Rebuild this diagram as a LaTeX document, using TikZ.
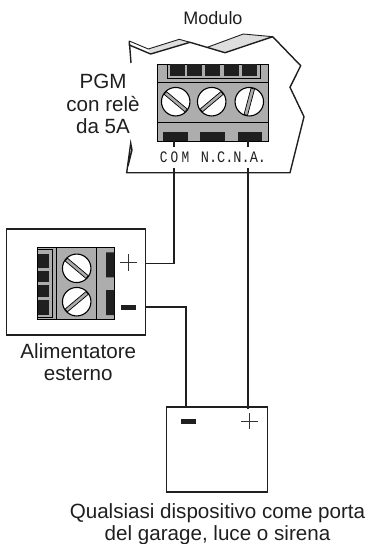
\documentclass[tikz,border=0pt]{standalone}
\usepackage{fontspec}
\usepackage{graphicx}
\setmainfont{Liberation Sans}
\newfontfamily\pinfont{Liberation Mono}
\usetikzlibrary{calc}
\definecolor{blockgray}{gray}{0.68}
\definecolor{ribbongray}{gray}{0.87}
\definecolor{tabblack}{gray}{0.12}
\tikzstyle{wire} = [draw,line width=1.6pt,tabblack]
\tikzstyle{outline} = [draw,line width=1.4pt,line join=miter,tabblack]
\tikzstyle{box} = [draw,line width=1.1pt,tabblack,fill=white,inner sep=0pt]
\tikzstyle{screw} = [draw,line width=1.1pt,black,fill=white,circle,minimum size=28.5pt,inner sep=0pt]
\tikzstyle{tab} = [fill=tabblack]
\tikzstyle{label} = [font=\fontsize{20.6pt}{22.5pt}\selectfont,align=center,text=tabblack,inner sep=0pt]
\tikzstyle{pin} = [font=\pinfont\fontsize{16pt}{16pt}\selectfont,text=tabblack,inner sep=0pt]
\newcommand{\slot}[2]{% screw slot through centre #1 at angle #2
    \fill[blockgray,draw=black,line width=0.7pt,rotate around={#2:(#1)}] ($(#1)+(-13.6,-1.8)$) rectangle ($(#1)+(13.6,1.8)$);}
\begin{document}
\begin{tikzpicture}[x=1pt,y=-1pt]
    \useasboundingbox (0,0) rectangle (368,544);
    % Module outline
    \fill[ribbongray] (148.3,49) -- (179.3,39.3) -- (190,42.3) -- (150.7,54) -- cycle;
    \fill[ribbongray] (207.3,47.3) -- (243.3,34) -- (272.7,36.7) -- (225,52.7) -- cycle;
    \path[outline] (131,63) -- (129.3,41) -- (129.3,45) -- (150.7,54) -- (190,42.3) -- (225,52.7) -- (272.7,36.7)
        -- (300.7,65.7) -- (290,87.3) -- (304,116.7) -- (290,172.7) -- (126.7,172.7) -- (130.7,143.3) -- (132,150) -- (128,166);
    \draw[tabblack,line width=0.9pt] (129.3,41) -- (148.3,49) -- (179.3,39.3) -- (190,42.3);
    \draw[tabblack,line width=0.9pt] (207.3,47.3) -- (243.3,34) -- (272.7,36.7);
    % Terminal block of the module
    \node[draw=black,line width=0.9pt,fill=blockgray,minimum width=110.5pt,minimum height=77pt,inner sep=0pt] (modblock) at (213,102.5) {};
    \draw[black,line width=0.9pt] (157.8,82) -- (268.3,82) (157.8,122) -- (268.3,122);
    \draw[black,line width=0.8pt] (167.3,64) -- (167.3,78.3) -- (260,78.3) -- (260,64);
    \foreach \x in {170,187,205,224,242.3} \fill[tab] (\x,64.3) rectangle ++(15,11.7);
    \foreach \pos/\name/\ang in {{(175.7,101.7)/scra/-40}, {(211.7,101.7)/scrb/40}, {(249.3,101.7)/scrc/75}}
    {
        \node[screw] (\name) at \pos {};
        \slot{\name.center}{\ang}
    }
    % Output tabs
    \foreach \xa/\xb in {162.7/187.7, 200/225, 237.7/262}
        \fill[tab] (\xa,132.3) rectangle (\xb,141);
    \node[pin] (com) at (174.5,157.5) {\scalebox{0.8}[1]{C\hspace{4pt}O\hspace{4pt}M}};
    \node[pin] (ncna) at (233.5,157.5) {\scalebox{0.85}[1]{N.C.N.A.}};
    % Power supply
    \node[box,minimum width=139pt,minimum height=106pt] (supply) at (76.2,282) {};
    \node[draw=black,line width=0.9pt,fill=blockgray,minimum width=76.6pt,minimum height=71.3pt,inner sep=0pt] (supblock) at (76,283.3) {};
    \draw[black,line width=0.9pt] (56,247.7) -- (56,319) (96.7,247.7) -- (96.7,319);
    \fill[tab] (37.7,253.5) rectangle (49,315);
    \foreach \y in {267.5,282.3,297.3} \fill[blockgray] (37.7,\y) rectangle (49,\y+3);
    \draw[black,line width=0.7pt] (38,249.5) -- (52.3,249.5) -- (52.3,317) -- (38,317);
    \fill[tab] (106,252.3) rectangle (114.3,277.3) (106,290) rectangle (114.3,315);
    \foreach \pos/\name/\ang in {{(76.7,268.3)/scrd/-40}, {(76.7,301.7)/scre/40}}
    {
        \node[screw] (\name) at \pos {};
        \slot{\name.center}{\ang}
    }
    \coordinate (plusin) at (supply.east |- 0,263.3);
    \coordinate (minusin) at (supply.east |- 0,307);
    \draw[black!80,line width=0.9pt] (120,262.3) -- (136.5,262.3) (128.3,254) -- (128.3,270.5);
    \fill[tab] (120.7,305) rectangle (136,310);
    % Device
    \node[box,minimum width=101pt,minimum height=85pt] (device) at (217.2,449.5) {};
    \fill[tab] (181,419) rectangle (196,423.7);
    \draw[black!80,line width=0.9pt] (241,421) -- (258,421) (249.3,413) -- (249.3,429);
    % Wires
    \coordinate (comtop) at (174,140);
    \coordinate (comoff) at (174,147);
    \coordinate (comon) at (174,168);
    \coordinate (natop) at (248,140);
    \coordinate (naoff) at (248,147);
    \coordinate (naon) at (248,168);
    \path[wire] (comtop) -- (comoff);
    \path[wire] (naoff) -- (natop);
    \path[wire] (comon) -- (comon |- plusin) -- (plusin);
    \path[wire] (minusin) -- (186,307) -- (186,407);
    \path[wire] (naon) -- (248,409);
    % Labels
    \node[label,font=\fontsize{18pt}{21pt}\selectfont] (title) at (213,18) {Modulo};
    \node[label] (pgm) at (103,104) {PGM\\con relè\\da 5A};
    \node[label] (suplabel) at (78.3,362) {Alimentatore\\esterno};
    \node[label] (devlabel) at (217.5,524) {Qualsiasi dispositivo come porta\\del garage, luce o sirena};
\end{tikzpicture}
\end{document}
